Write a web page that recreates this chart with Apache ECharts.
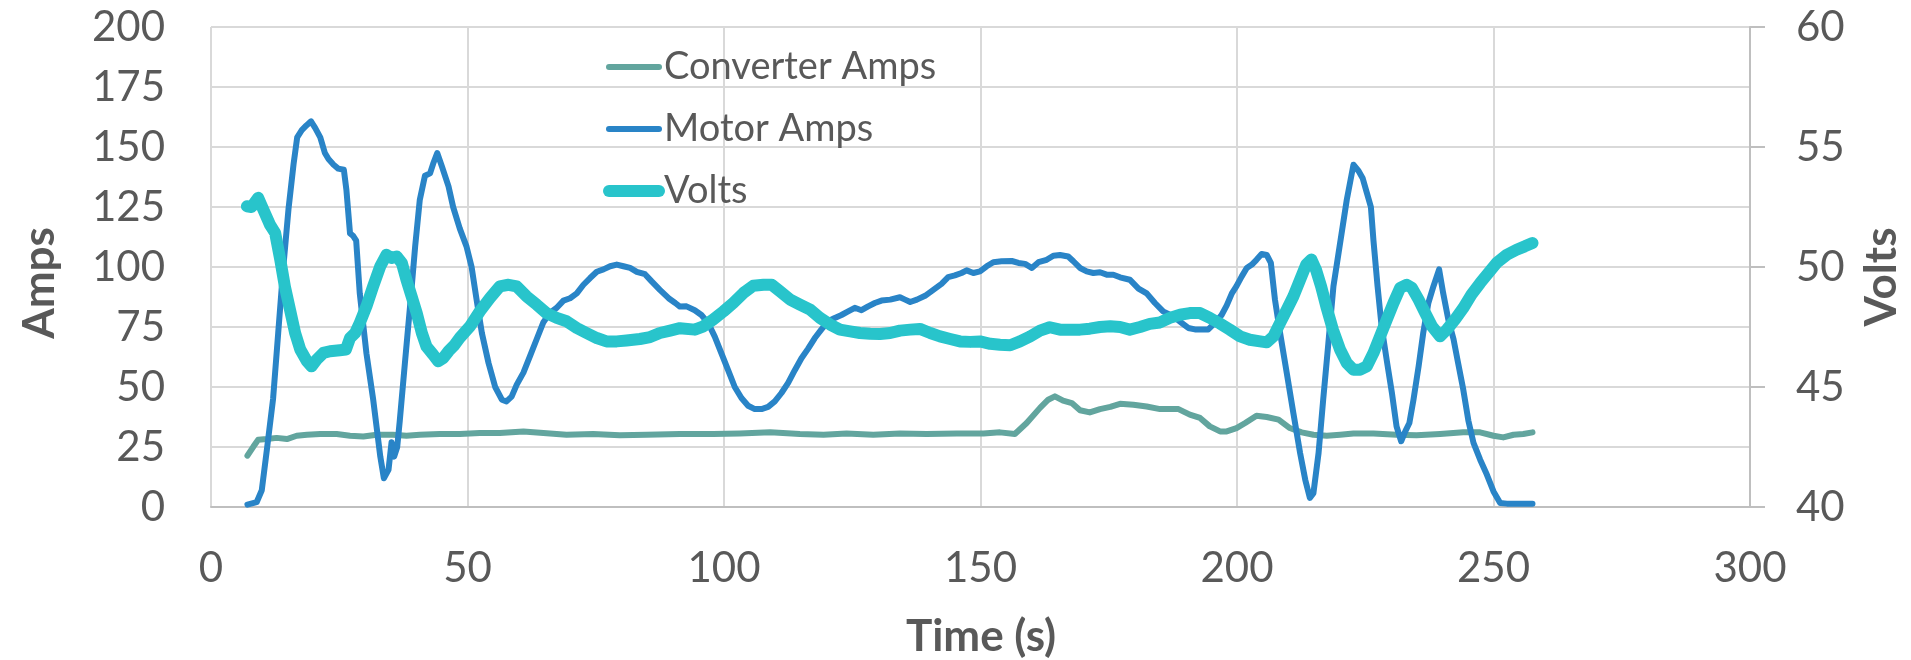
<!DOCTYPE html>
<html>
<head>
<meta charset="utf-8">
<script src="https://cdn.jsdelivr.net/npm/echarts@6/dist/echarts.min.js"></script>
<style>
  html, body { margin: 0; padding: 0; background: #fff; }
  #chart { width: 1911px; height: 660px; }
</style>
</head>
<body>
<div id="chart"></div>
<script>
// time (s) and readings
const convTime = [
    7.1, 8.3, 9.2, 10.9, 12.8, 14.8, 16.7, 18.7, 21.3, 24.5,
    27.1, 29.7, 32.3, 35.5, 38.1, 40.7, 44.6, 48.5, 52.4, 56.3,
    60.9, 64.8, 69.3, 74.5, 79.7, 84.9, 91.4, 97.9, 103.1, 109.0,
    114.8, 119.4, 123.9, 129.1, 134.3, 139.5, 145.4, 150.6, 153.8, 156.7,
    159.0, 161.6, 163.2, 164.5, 166.1, 167.8, 169.4, 171.3, 173.3, 175.3,
    177.2, 179.8, 182.4, 185.0, 188.6, 190.8, 192.8, 194.7, 196.7, 198.0,
    199.9, 201.6, 203.8, 205.8, 208.1, 210.3, 212.6, 214.9, 217.5, 220.1,
    222.7, 226.6, 231.1, 235.0, 239.6, 244.1, 247.4, 250.0, 251.9, 253.9,
    255.8, 257.6
]
const convAmps = [
    21.4, 25.3, 28.0, 28.3, 28.8, 28.3, 29.7, 30.1, 30.4, 30.4,
    29.7, 29.4, 30.1, 30.1, 29.7, 30.1, 30.4, 30.4, 30.8, 30.8,
    31.5, 30.8, 30.1, 30.4, 29.9, 30.1, 30.4, 30.4, 30.6, 31.1,
    30.4, 30.1, 30.6, 30.1, 30.6, 30.4, 30.6, 30.6, 31.1, 30.4,
    35.0, 41.3, 44.7, 46.1, 44.3, 43.3, 40.3, 39.4, 40.8, 41.7,
    43.0, 42.6, 41.9, 40.8, 40.8, 38.5, 37.1, 33.6, 31.5, 31.5,
    32.9, 35.0, 38.0, 37.5, 36.4, 32.9, 31.1, 30.1, 29.7, 30.1,
    30.6, 30.6, 30.1, 29.9, 30.4, 31.1, 31.1, 29.7, 29.0, 30.1,
    30.4, 31.1
]

const motorTime = [
    7.1, 8.9, 9.9, 10.9, 12.1, 13.1, 14.1, 15.1, 16.1, 16.8,
    17.7, 18.6, 19.5, 20.3, 21.3, 22.2, 22.9, 23.9, 24.8, 25.9,
    26.4, 27.1, 27.7, 28.3, 29.0, 30.3, 31.6, 33.0, 33.7, 34.6,
    35.2, 35.7, 36.3, 36.8, 37.8, 38.8, 39.8, 40.7, 41.7, 42.7,
    43.3, 44.1, 45.0, 46.3, 47.2, 48.5, 49.8, 50.8, 51.8, 52.8,
    54.1, 55.4, 56.7, 57.6, 58.6, 59.6, 60.9, 62.2, 63.5, 64.8,
    66.1, 67.4, 68.7, 70.0, 71.3, 72.6, 73.9, 75.2, 76.5, 77.8,
    79.1, 80.4, 81.7, 83.0, 84.6, 85.9, 87.5, 89.2, 90.5, 91.4,
    92.7, 94.3, 95.6, 96.9, 98.2, 99.5, 100.8, 102.1, 103.4, 104.7,
    106.0, 107.3, 108.6, 109.9, 111.2, 112.5, 113.8, 115.1, 116.4, 117.7,
    119.0, 120.3, 121.6, 122.9, 124.2, 125.5, 126.8, 128.1, 129.4, 130.7,
    132.4, 134.3, 135.3, 136.3, 137.6, 139.2, 140.8, 142.4, 143.7, 145.0,
    146.3, 147.3, 148.6, 149.9, 151.2, 152.5, 154.1, 156.1, 157.4, 158.7,
    160.0, 161.3, 162.9, 164.2, 165.5, 167.1, 168.1, 169.4, 170.7, 172.0,
    173.3, 174.6, 175.9, 177.2, 179.1, 180.8, 182.4, 184.0, 185.6, 187.6,
    189.2, 190.5, 191.8, 193.1, 194.4, 195.7, 197.0, 198.0, 199.0, 199.9,
    200.9, 201.9, 202.9, 203.8, 204.8, 205.8, 206.6, 207.4, 208.4, 209.7,
    211.0, 212.3, 213.3, 214.2, 214.9, 215.9, 216.8, 217.8, 218.8, 220.1,
    221.4, 222.7, 223.7, 224.5, 225.3, 226.1, 226.6, 227.4, 228.2, 229.2,
    230.2, 231.1, 232.0, 232.8, 233.6, 234.4, 235.4, 236.3, 237.3, 238.3,
    239.4, 240.2, 241.2, 242.2, 243.1, 244.1, 245.1, 246.1, 247.4, 248.7,
    250.0, 251.3, 252.6, 255.2, 257.6
]
const motorAmps = [
    1, 2, 7, 24, 45, 72.5, 100, 124, 143, 154,
    157, 159, 160.7, 158, 154, 147.5, 145, 142.6, 141, 140.5,
    132, 114, 113, 111, 89, 64, 45, 21, 12, 15.5,
    27, 21, 25, 36, 60, 83.6, 108.6, 128, 138, 139,
    143, 147.5, 142, 133.6, 125, 116, 108.6, 100, 86, 72.5,
    60, 50, 44.7, 44, 46, 51, 56, 63, 70, 77,
    81, 83, 86, 87, 89, 92.6, 95.4, 98, 99, 100.3,
    101, 100.3, 99.6, 98, 97, 94, 90.5, 87, 85, 83.5,
    83.6, 82, 80, 76.7, 71, 64, 57, 50, 45.4, 42.2,
    40.8, 40.8, 41.7, 44, 47.5, 51.7, 57, 62, 66, 70.4,
    74, 77.4, 78.8, 80, 81.5, 83, 82, 83.6, 85, 86,
    86.4, 87.4, 86.4, 85.4, 86.4, 88, 90.5, 93, 95.8, 96.5,
    97.5, 98.6, 97.5, 98.2, 100.3, 102, 102.4, 102.5, 101.7, 101.3,
    99.6, 102, 103, 104.7, 105, 104.4, 102.4, 99.6, 98.2, 97.5,
    97.8, 96.8, 96.8, 95.7, 94.7, 91, 89, 85, 81.5, 79.4,
    76.7, 74.6, 74, 74, 74, 76.7, 80, 84, 89, 92,
    96, 99.6, 101, 103, 105.4, 105, 101.7, 86.4, 72.5, 55.8,
    39, 22.5, 11.4, 3.8, 5.8, 22.5, 44.7, 68, 92, 110,
    128, 142.6, 140, 137, 131, 125, 111, 92, 75, 61,
    47.5, 33.6, 27.4, 31.5, 35, 44.7, 58.6, 72.5, 85, 92,
    99, 89, 78, 70, 60, 49, 36, 26.7, 19.7, 13.5,
    6.5, 1.7, 1.4, 1.4, 1.4
]

const voltTime = [
    7.0, 7.9, 9.2, 10.2, 11.5, 12.5, 13.5, 14.4, 15.4, 16.4,
    17.4, 18.7, 19.6, 20.6, 21.9, 23.2, 25.1, 26.3, 27.1, 28.1,
    29.0, 30.3, 31.6, 33.0, 34.2, 35.2, 36.2, 37.2, 38.1, 39.1,
    40.1, 41.1, 42.0, 43.3, 44.3, 45.3, 46.3, 47.5, 48.5, 50.5,
    52.4, 54.4, 56.3, 58.0, 59.6, 61.5, 63.5, 65.4, 67.4, 69.3,
    71.3, 73.2, 75.2, 77.1, 79.1, 81.0, 83.6, 85.6, 87.5, 89.5,
    91.4, 94.3, 96.0, 97.9, 99.9, 101.8, 103.8, 105.7, 107.7, 109.3,
    110.9, 112.9, 114.8, 116.8, 118.7, 120.7, 122.6, 124.6, 126.5, 128.5,
    130.4, 132.4, 134.3, 136.3, 138.2, 140.2, 142.1, 144.1, 146.0, 148.0,
    149.9, 151.9, 153.8, 155.8, 157.7, 159.7, 161.6, 163.5, 165.5, 167.4,
    169.4, 171.3, 173.3, 175.3, 177.2, 179.1, 181.1, 183.0, 185.0, 186.9,
    188.9, 190.8, 192.8, 194.7, 196.7, 198.6, 200.6, 202.5, 204.5, 205.8,
    207.1, 208.4, 209.7, 211.0, 212.3, 213.5, 214.5, 215.4, 216.4, 217.4,
    218.7, 220.1, 221.4, 222.7, 224.0, 225.3, 226.6, 227.9, 229.2, 230.5,
    231.8, 233.1, 234.1, 235.4, 236.7, 238.0, 239.6, 240.9, 242.5, 244.1,
    245.7, 247.4, 249.0, 250.6, 252.6, 254.5, 256.1, 257.6
]
const volts = [
    52.53, 52.5, 52.88, 52.39, 51.76, 51.42, 50.31, 49.19, 48.22, 47.25,
    46.56, 46.07, 45.86, 46.14, 46.42, 46.49, 46.53, 46.56, 47.04, 47.25,
    47.67, 48.36, 49.19, 50.03, 50.51, 50.38, 50.44, 50.17, 49.47, 48.78,
    48.08, 47.25, 46.69, 46.35, 46.07, 46.21, 46.49, 46.76, 47.05, 47.53,
    48.15, 48.71, 49.19, 49.26, 49.19, 48.78, 48.43, 48.08, 47.88, 47.74,
    47.46, 47.25, 47.04, 46.9, 46.9, 46.94, 47.0, 47.08, 47.25, 47.35,
    47.45, 47.39, 47.53, 47.81, 48.15, 48.5, 48.92, 49.22, 49.26, 49.26,
    48.99, 48.64, 48.43, 48.22, 47.88, 47.6, 47.39, 47.32, 47.25, 47.22,
    47.21, 47.25, 47.35, 47.39, 47.42, 47.25, 47.11, 47.0, 46.9, 46.88,
    46.9, 46.8, 46.76, 46.74, 46.9, 47.11, 47.35, 47.49, 47.39, 47.39,
    47.39, 47.43, 47.5, 47.53, 47.5, 47.39, 47.5, 47.63, 47.69, 47.88,
    48.01, 48.08, 48.08, 47.88, 47.64, 47.39, 47.11, 46.97, 46.9, 46.86,
    47.11, 47.67, 48.22, 48.78, 49.47, 50.1, 50.31, 49.89, 49.19, 48.36,
    47.39, 46.55, 46.0, 45.72, 45.72, 45.86, 46.42, 47.11, 47.81, 48.5,
    49.13, 49.26, 49.13, 48.64, 48.08, 47.53, 47.11, 47.39, 47.81, 48.29,
    48.85, 49.33, 49.75, 50.17, 50.51, 50.72, 50.86, 51.0
]

const FONT = 'Lato, "Liberation Sans", sans-serif'
const TEXT = '#595959'

function pairs(ts, vs) {
    return ts.map((t, i) => [t, vs[i]])
}

const mychart = echarts.init(document.getElementById('chart'))

let option = {
    animation: false,
    textStyle: { fontFamily: FONT, color: TEXT },
    grid: { left: 211, right: 161, top: 27, bottom: 153 },
    legend: {
        orient: 'vertical',
        left: 598,
        top: 43,
        itemWidth: 50,
        itemHeight: 14,
        itemGap: 24,
        textStyle: { fontFamily: FONT, fontSize: 38, color: TEXT },
        // line only, same thickness as the series, no marker dot
        lineStyle: { width: 'inherit', cap: 'round' },
        itemStyle: { opacity: 0 },
        data: ['Converter Amps', 'Motor Amps', 'Volts'],
    },
    xAxis: {
        type: 'value',
        min: 0,
        max: 300,
        interval: 50,
        axisLine: { show: true, onZero: false, lineStyle: { color: '#bfbfbf', width: 2 } },
        axisTick: { show: false },
        axisLabel: { fontSize: 42, color: TEXT, margin: 40 },
        splitLine: { show: true, lineStyle: { color: '#d9d9d9', width: 2 } },
    },
    yAxis: [
        {
            type: 'value',
            min: 0,
            max: 200,
            interval: 25,
            axisLine: { show: false },
            axisTick: { show: false },
            axisLabel: { fontSize: 42, color: TEXT, margin: 46 },
            splitLine: { show: true, lineStyle: { color: '#d9d9d9', width: 2 } },
        },
        {
            type: 'value',
            position: 'right',
            min: 40,
            max: 60,
            interval: 5,
            axisLine: { show: true, lineStyle: { color: '#bfbfbf', width: 2 } },
            axisTick: { show: true, length: 15, lineStyle: { color: '#bfbfbf', width: 2 } },
            axisLabel: { fontSize: 42, color: TEXT, margin: 46 },
            splitLine: { show: false },
        },
    ],
    series: [
        {
            name: 'Converter Amps',
            type: 'line',
            data: pairs(convTime, convAmps),
            symbol: 'none',
            color: '#62a59e',
            lineStyle: { width: 6, cap: 'round', join: 'round' },
        },
        {
            name: 'Motor Amps',
            type: 'line',
            data: pairs(motorTime, motorAmps),
            symbol: 'none',
            color: '#2984c7',
            lineStyle: { width: 6, cap: 'round', join: 'round' },
        },
        {
            name: 'Volts',
            type: 'line',
            yAxisIndex: 1,
            data: pairs(voltTime, volts),
            symbol: 'none',
            color: '#28c4cb',
            lineStyle: { width: 12, cap: 'round', join: 'round' },
        },
    ],
    // axis titles
    graphic: [
        {
            type: 'text', x: 40, y: 283, rotation: Math.PI / 2,
            style: { text: 'Amps', font: 'bold 44px ' + FONT, fill: TEXT, align: 'center', verticalAlign: 'middle' },
        },
        {
            type: 'text', x: 1882, y: 277, rotation: Math.PI / 2,
            style: { text: 'Volts', font: 'bold 44px ' + FONT, fill: TEXT, align: 'center', verticalAlign: 'middle' },
        },
        {
            type: 'text', x: 981, y: 637,
            style: { text: 'Time (s)', font: 'bold 44px ' + FONT, fill: TEXT, align: 'center', verticalAlign: 'middle' },
        },
    ],
}

mychart.setOption(option)
</script>
</body>
</html>
